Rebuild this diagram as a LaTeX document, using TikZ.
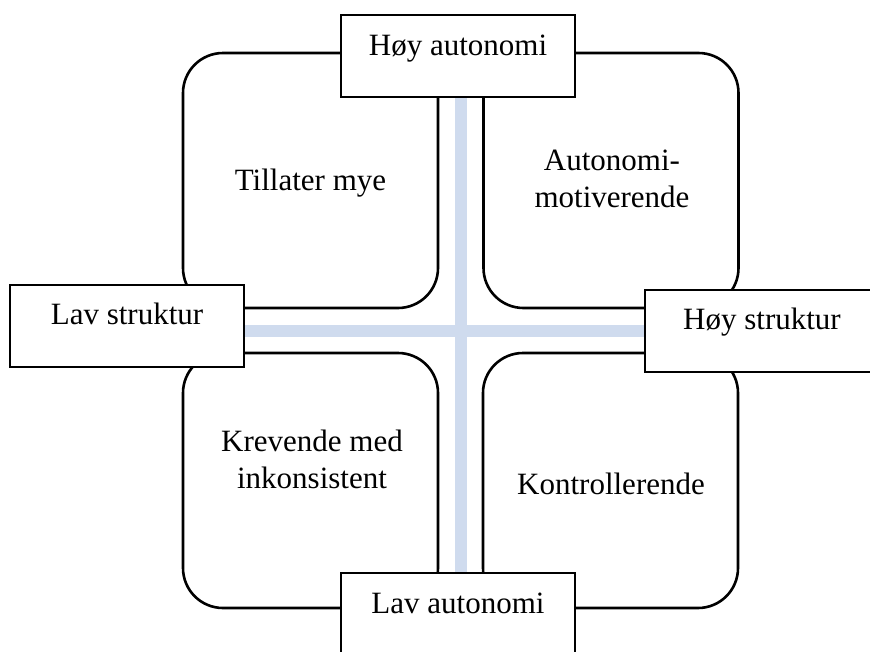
\documentclass[tikz,border=0pt]{standalone}
\usepackage{fontspec}
\setmainfont{Liberation Serif}
\definecolor{crossblue}{RGB}{207,219,238}

\begin{document}
\begin{tikzpicture}[x=1pt,y=1pt]
\tikzstyle{every node}+=[inner sep=0pt, font=\fontsize{31}{37}\selectfont]
\tikzstyle{quad}=[draw, line width=2.6pt, rounded corners=40pt, minimum width=255pt, minimum height=255pt]
\tikzstyle{axis}=[draw, line width=2pt, fill=white, minimum width=234pt, text height=40pt, text depth=42pt]
\tikzstyle{band}=[crossblue, line width=12pt]
\useasboundingbox (0,0) rectangle (870,-651);
\clip (0,0) rectangle (870,-651);
% the four fields
\node [quad] (q1) at (310.5,-180.5) {};
\node [quad] (q2) at (611,-180.5) {};
\node [quad] (q3) at (310.5,-480.5) {};
\node [quad] (q4) at (610.5,-480.5) {};
\node [align=center] (t1) at (310.5,-183) {Tillater mye};
\node [align=center] (t2) at (612,-179) {Autonomi-\\motiverende};
\node [align=center] (t3) at (312,-459) {Krevende med\\inkonsistent};
\node [align=center] (t4) at (611,-484) {Kontrollerende};
% axis labels
\coordinate (mid) at (461,-331);
\node [axis] (top) at (458,-56) {Høy autonomi};
\node [axis] (bot) at (458,-614) {Lav autonomi};
\node [axis] (lft) at (127,-325.5) {Lav struktur};
\node [axis] (rgt) at (762,-330.5) {Høy struktur};
\draw [band] (top.south -| mid) -- (bot.north -| mid);
\draw [band] (lft.east |- mid) -- (rgt.west |- mid);
\end{tikzpicture}
\end{document}
